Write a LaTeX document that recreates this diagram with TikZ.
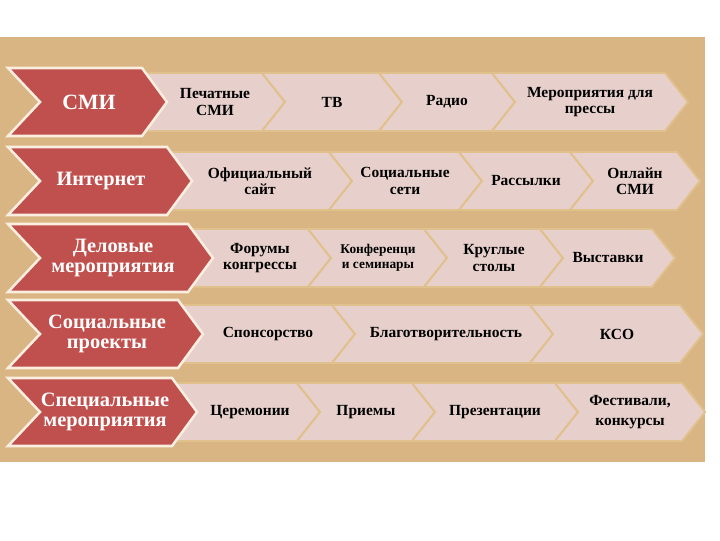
\documentclass[tikz,border=0pt]{standalone}
\usepackage{fontspec}
\setmainfont{Liberation Serif}
\usepackage{tikz}

\definecolor{bgtan}{RGB}{217,181,131}
\definecolor{chevred}{RGB}{192,80,77}
\definecolor{chevpink}{RGB}{231,208,203}
\definecolor{chevline}{RGB}{224,193,140}
\definecolor{redline}{RGB}{250,238,224}

\tikzset{
  redchev/.style={fill=chevred, draw=redline, line width=1.8pt, line join=miter},
  pinkchev/.style={fill=chevpink, draw=chevline, line width=1.4pt},
  redtxt/.style={text=white, font=\bfseries\fontsize{14.5}{14.5}\selectfont, align=center},
  pinktxt/.style={text=black, font=\bfseries\fontsize{11}{11.5}\selectfont, align=center},
  smalltxt/.style={text=black, font=\bfseries\fontsize{9.5}{11}\selectfont, align=center}
}

%light chevron: notch x, tip x, middle y
\newcommand{\pinkchevron}[3]{
  \draw[pinkchev] (#1-23,#3-29) -- (#2-23,#3-29) -- (#2,#3)
    -- (#2-23,#3+29) -- (#1-23,#3+29) -- (#1,#3) -- cycle;
}
%red chevron: tip x, middle y
\newcommand{\redchevron}[2]{
  \draw[redchev] (8,#2-34) -- (#1-25,#2-34) -- (#1,#2)
    -- (#1-25,#2+34) -- (8,#2+34) -- (40,#2) -- cycle;
}

\begin{document}
\begin{tikzpicture}[x=0.025cm, y=-0.025cm]

      \useasboundingbox (0,0) rectangle (720,540);
      \fill[white] (0,0) rectangle (720,540);
      %background
      \fill[bgtan] (0,37) rectangle (705,462);

      %СМИ
      \pinkchevron{167}{285}{102}
      \pinkchevron{285}{402}{102}
      \pinkchevron{402}{515}{102}
      \pinkchevron{515}{688}{102}
      \redchevron{167}{102}
      \node[redtxt, font=\bfseries\fontsize{15.5}{16}\selectfont] (smi) at (89,102) {СМИ};
      \node[pinktxt] (print) at (215,102) {Печатные\\СМИ};
      \node[pinktxt] (tv) at (332,102) {ТВ};
      \node[pinktxt] (radio) at (447,102) {Радио};
      \node[pinktxt] (press) at (590,102) {Мероприятия для\\прессы};

      %Интернет
      \pinkchevron{192}{352}{181}
      \pinkchevron{352}{482}{181}
      \pinkchevron{482}{593}{181}
      \pinkchevron{593}{700}{181}
      \redchevron{192}{181}
      \node[redtxt] (web) at (101,181) {Интернет};
      \node[pinktxt] (site) at (260,181) {Официальный\\сайт};
      \node[pinktxt] (social) at (405,181) {Социальные\\сети};
      \node[pinktxt] (mail) at (526,181) {Рассылки};
      \node[pinktxt] (online) at (635,181) {Онлайн\\СМИ};

      %Деловые мероприятия
      \pinkchevron{213}{331}{258}
      \pinkchevron{331}{447}{258}
      \pinkchevron{447}{563}{258}
      \pinkchevron{563}{675}{258}
      \redchevron{213}{258}
      \node[redtxt] (business) at (113,258) {Деловые\\мероприятия};
      \node[pinktxt] (forum) at (260,258) {Форумы\\конгрессы};
      \node[smalltxt] (conf) at (378,258) {Конференци\\и семинары};
      \node[pinktxt] (round) at (494,258) {Круглые\\столы};
      \node[pinktxt] (expo) at (608,258) {Выставки};

      %Социальные проекты
      \pinkchevron{203}{355}{334}
      \pinkchevron{355}{553}{334}
      \pinkchevron{553}{703}{334}
      \redchevron{203}{334}
      \node[redtxt] (projects) at (107,334) {Социальные\\проекты};
      \node[pinktxt] (sponsor) at (268,334) {Спонсорство};
      \node[pinktxt] (charity) at (446,334) {Благотворительность};
      \node[pinktxt] (cso) at (617,334) {КСО};

      %Специальные мероприятия
      \pinkchevron{197}{320}{412}
      \pinkchevron{320}{435}{412}
      \pinkchevron{435}{578}{412}
      \pinkchevron{578}{705}{412}
      \redchevron{197}{412}
      \node[redtxt] (special) at (105,412) {Специальные\\мероприятия};
      \node[pinktxt] (ceremony) at (250,412) {Церемонии};
      \node[pinktxt] (reception) at (366,412) {Приемы};
      \node[pinktxt] (present) at (495,412) {Презентации};
      \node[pinktxt, font=\bfseries\fontsize{11}{14}\selectfont] (fest) at (630,412) {Фестивали,\\конкурсы};

\end{tikzpicture}
\end{document}
